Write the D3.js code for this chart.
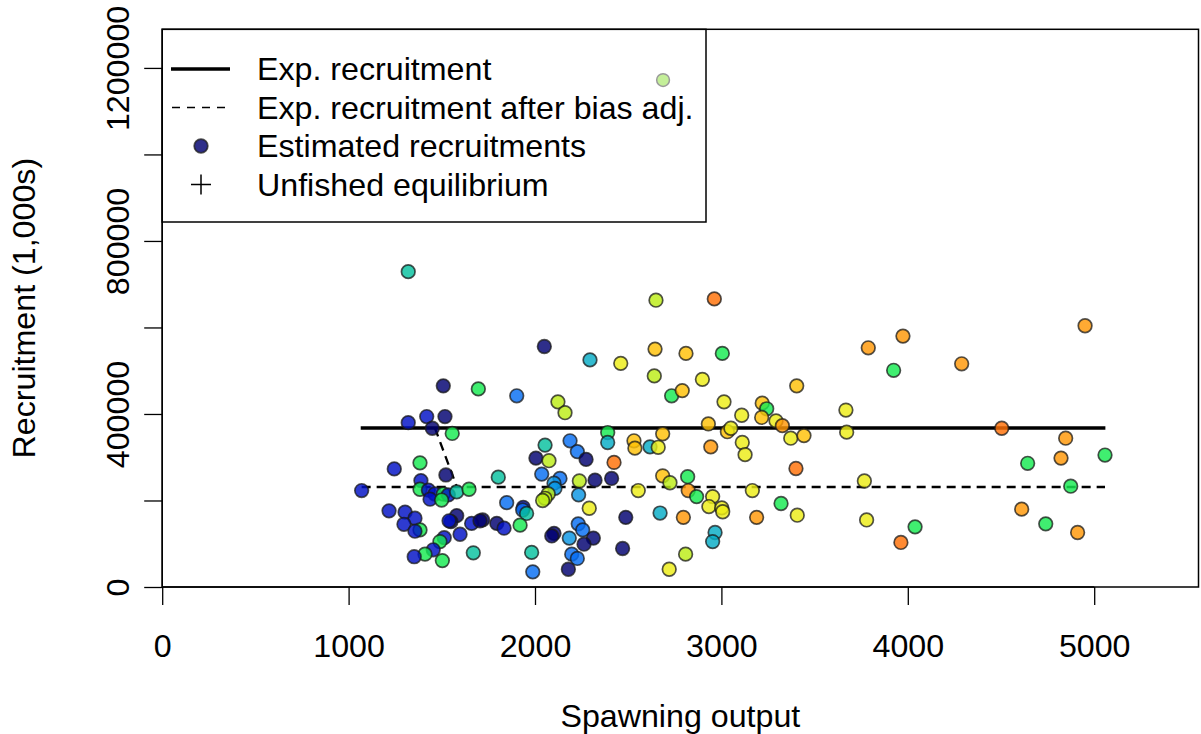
<!DOCTYPE html>
<html>
<head>
<meta charset="utf-8">
<script src="https://cdn.jsdelivr.net/npm/d3@7"></script>
<style>
  html, body { margin: 0; padding: 0; background: #fff; }
  svg { display: block; }
  text { font-family: "Liberation Sans", Arial, Helvetica, sans-serif; fill: #000; }
</style>
</head>
<body>
<svg id="chart" width="1201" height="734"></svg>
<script>
// ---------------- DATA ----------------
// Spawning output (x) and estimated recruitment (1,000s) of each year, plus colour group (year order: 0 = earliest)
const spawnOutput = [
  1320, 2050, 2295, 2460, 1508, 1696, 1902, 2123, 2161, 1320,
  1419, 1517, 1449, 1556, 2390, 2390, 2531, 2536, 2054, 2188,
  2227, 2274, 2005, 2075, 2424, 1245, 1383, 1522, 1803, 2036,
  2134, 2102, 2107, 2238, 2322, 2411, 2234, 2071, 2054, 2041,
  2554, 1848, 1937, 1934, 1955, 2291, 1920, 1719, 1795, 1834,
  2487, 2470, 2102, 2090, 2184, 2232, 2256, 2313, 2263, 1982,
  1988, 2197, 2227, 2179, 1070, 1388, 1383, 1428, 1463, 1508,
  1535, 1580, 1646, 1437, 1499, 1217, 1303, 1356, 1297, 1383,
  1356, 1580, 1549, 1539, 1598, 1660, 1705, 1513, 1490, 1454,
  1410, 1352, 1503, 1669, 2649, 2962, 2644, 2810, 3005, 2640,
  2898, 2733, 2790, 3014, 3404, 3219, 3243, 3109, 3216, 3293,
  3327, 2930, 3032, 3051, 3372, 3443, 3668, 3672, 2685, 2617,
  2661, 2943, 3112, 3127, 3400, 2685, 2724, 2819, 2822, 2867,
  2953, 2933, 3002, 3007, 3166, 3320, 3407, 3189, 2796, 2671,
  2966, 2953, 2808, 2720, 3767, 3779, 3788, 3974, 3924, 4039,
  3963, 4951, 4289, 4504, 4847, 4822, 4643, 5058, 4874, 4611,
  4740, 4911
];
const recruitment = [
  729000, 556000, 525000, 517000, 465000, 458000, 442000, 428000, 403000, 380000,
  394000, 394000, 367000, 355000, 357000, 334000, 338000, 321000, 328000, 338000,
  313000, 295000, 298000, 292000, 288000, 273000, 287000, 259000, 254000, 261000,
  251000, 240000, 228000, 245000, 247000, 251000, 213000, 215000, 205000, 200000,
  223000, 195000, 184000, 178000, 170000, 182000, 143000, 155000, 147000, 136000,
  161000, 89000, 124000, 118000, 113000, 146000, 132000, 113000, 99000, 80000,
  35000, 76000, 66000, 41000, 223000, 246000, 226000, 224000, 215000, 215000,
  213000, 220000, 226000, 203000, 201000, 176000, 173000, 159000, 145000, 132000,
  129000, 165000, 151000, 153000, 122000, 147000, 153000, 114000, 105000, 86000,
  76000, 70000, 61000, 79000, 663000, 666000, 550000, 540000, 540000, 488000,
  480000, 442000, 454000, 428000, 465000, 425000, 412000, 397000, 392000, 384000,
  373000, 377000, 359000, 367000, 344000, 350000, 409000, 358000, 354000, 324000,
  323000, 324000, 334000, 306000, 274000, 257000, 241000, 255000, 223000, 209000,
  209000, 186000, 183000, 174000, 223000, 193000, 166000, 161000, 161000, 171000,
  126000, 105000, 76000, 41000, 245000, 155000, 553000, 580000, 501000, 139000,
  103000, 604000, 516000, 367000, 344000, 298000, 286000, 305000, 233000, 180000,
  146000, 126000
];
const yearGroup = [
  5, 0, 4, 8, 0, 6, 2, 7, 7, 1,
  1, 0, 0, 6, 6, 4, 9, 9, 5, 2,
  2, 0, 0, 7, 11, 1, 6, 0, 5, 2,
  2, 3, 3, 7, 0, 0, 3, 7, 7, 7,
  8, 2, 1, 2, 5, 8, 6, 0, 0, 1,
  0, 0, 0, 0, 3, 2, 2, 0, 0, 5,
  2, 2, 2, 0, 1, 1, 6, 1, 1, 6,
  1, 5, 6, 1, 6, 1, 1, 1, 1, 6,
  1, 0, 0, 1, 1, 1, 0, 1, 6, 1,
  6, 1, 6, 5, 7, 11, 9, 9, 6, 7,
  8, 6, 9, 8, 9, 9, 6, 8, 9, 8,
  10, 9, 9, 8, 8, 9, 8, 8, 9, 4,
  8, 10, 8, 8, 11, 9, 7, 6, 10, 6,
  8, 8, 8, 8, 8, 6, 8, 10, 10, 4,
  4, 4, 7, 8, 8, 8, 10, 10, 6, 6,
  11, 10, 10, 11, 10, 10, 6, 6, 6, 10,
  6, 10
];
// Faded (forecast) recruitment point
const forecastSB = [2687];
const forecastR = [1172000];

// Expected recruitment curve (flat) and bias-adjusted curve
const expCurveSB = [1065, 5060];
const expCurveR = [367600, 367600];
const biasRampSB = [1463, 1581];
const biasRampR = [367600, 231200];
const biasCurveSB = [1070, 5058];
const biasCurveR = [231200, 231200];

// Axis ticks
const xTicks = [0, 1000, 2000, 3000, 4000, 5000];
const yTicks = [0, 200000, 400000, 600000, 800000, 1000000, 1200000];
const yTickLabels = [0, 400000, 800000, 1200000];

const legendLabels = ["Exp. recruitment", "Exp. recruitment after bias adj.", "Estimated recruitments", "Unfished equilibrium"];

// ---------------- STYLE ----------------
const palette = ["#000070", "#0010c6", "#066ef3", "#0995e3", "#06acc6", "#06c19f",
                 "#16ea51", "#bced16", "#eded16", "#ffc106", "#ff9706", "#ff7006"];
const FS = 32.2;
const PR = 6.8;

const svg = d3.select("#chart");
const L = 162.2, R = 1198.5, T = 29.3, B = 587;

const xMax = d3.max(spawnOutput) * 1.1;
const yMax = d3.max(recruitment.concat(forecastR)) * 1.1;
const x = d3.scaleLinear().domain([0, xMax]).range([L, L + xMax * 0.1864]);
const y = d3.scaleLinear().domain([0, yMax]).range([B, B - yMax / 2311.8]);

// Axes
const xAxis = d3.axisBottom(x).tickValues(xTicks).tickSize(18).tickFormat(d3.format("d"));
const gx = svg.append("g").attr("transform", `translate(0,${B})`).call(xAxis);
gx.select(".domain").attr("d", `M${x(0)},0H${x(5000)}`).attr("stroke-width", 1.3);
gx.selectAll(".tick line").attr("stroke-width", 1.3);
gx.selectAll(".tick text").style("font-size", FS + "px").attr("font-family", null).attr("dy", null).attr("y", 70);

const yAxis = d3.axisLeft(y).tickValues(yTicks).tickSize(18).tickFormat(d => yTickLabels.includes(d) ? d3.format("d")(d) : "");
const gy = svg.append("g").attr("transform", `translate(${L},0)`).call(yAxis);
gy.select(".domain").attr("d", `M0,${y(0)}V${y(1200000)}`).attr("stroke-width", 1.3);
gy.selectAll(".tick line").attr("stroke-width", 1.3);
gy.selectAll(".tick text")
  .style("font-size", FS + "px")
  .attr("x", null).attr("dy", null)
  .attr("text-anchor", "middle")
  .attr("transform", "translate(-33,0) rotate(-90)");

// Axis titles
svg.append("text").attr("x", (L + R) / 2).attr("y", 727).attr("text-anchor", "middle")
  .style("font-size", FS + "px").text("Spawning output");
svg.append("text").attr("transform", `translate(35,${(T + B) / 2}) rotate(-90)`).attr("text-anchor", "middle")
  .style("font-size", FS + "px").text("Recruitment (1,000s)");

// Lines
const line = d3.line().x(d => x(d[0])).y(d => y(d[1]));
svg.append("path").datum(d3.zip(expCurveSB, expCurveR)).attr("d", line)
  .attr("fill", "none").attr("stroke", "#000").attr("stroke-width", 3.4);
svg.append("path").datum(d3.zip(biasRampSB, biasRampR)).attr("d", line)
  .attr("fill", "none").attr("stroke", "#000").attr("stroke-width", 2.3).attr("stroke-dasharray", "9,6");
svg.append("path").datum(d3.zip(biasCurveSB, biasCurveR)).attr("d", line)
  .attr("fill", "none").attr("stroke", "#000").attr("stroke-width", 2.3).attr("stroke-dasharray", "9,6");

// Points
const pts = spawnOutput.map((s, i) => ({ s, r: recruitment[i], g: yearGroup[i] }));
svg.append("g").selectAll("circle").data(pts).join("circle")
  .attr("cx", d => x(d.s)).attr("cy", d => y(d.r)).attr("r", PR)
  .attr("fill", d => palette[d.g]).attr("fill-opacity", 0.82)
  .attr("stroke", "#1a1a1a").attr("stroke-opacity", 0.75).attr("stroke-width", 1.7);

svg.append("g").selectAll("circle").data(d3.zip(forecastSB, forecastR)).join("circle")
  .attr("cx", d => x(d[0])).attr("cy", d => y(d[1])).attr("r", 6.4)
  .attr("fill", "#c4ef99").attr("stroke", "#9a9a9a").attr("stroke-width", 1.5);

// Plot box
svg.append("rect").attr("x", L).attr("y", T).attr("width", R - L).attr("height", B - T)
  .attr("fill", "none").attr("stroke", "#000").attr("stroke-width", 1.5);

// Legend
const lg = svg.append("g");
lg.append("rect").attr("x", L).attr("y", T).attr("width", 706 - L).attr("height", 222 - T)
  .attr("fill", "none").attr("stroke", "#000").attr("stroke-width", 1.5);
const rowY = [69, 107.5, 146, 184.5];
lg.append("line").attr("x1", 171).attr("x2", 230).attr("y1", rowY[0]).attr("y2", rowY[0])
  .attr("stroke", "#000").attr("stroke-width", 3.4);
lg.append("line").attr("x1", 172).attr("x2", 230).attr("y1", rowY[1]).attr("y2", rowY[1])
  .attr("stroke", "#000").attr("stroke-width", 1.5).attr("stroke-dasharray", "8,7");
lg.append("circle").attr("cx", 201).attr("cy", rowY[2]).attr("r", PR)
  .attr("fill", palette[0]).attr("fill-opacity", 0.82)
  .attr("stroke", "#1a1a1a").attr("stroke-opacity", 0.75).attr("stroke-width", 1.7);
lg.append("path").attr("d", `M191,${rowY[3]}H211M201,${rowY[3] - 10}V${rowY[3] + 10}`)
  .attr("stroke", "#000").attr("stroke-width", 1.5);
lg.selectAll("text.lab").data(legendLabels).join("text").attr("class", "lab")
  .attr("x", 257).attr("y", (d, i) => rowY[i] + 11)
  .style("font-size", FS + "px").text(d => d);
</script>
</body>
</html>
